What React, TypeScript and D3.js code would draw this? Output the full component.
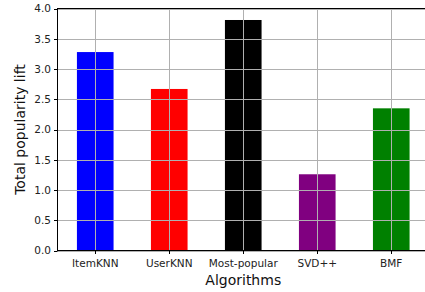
import React from "react";
import * as d3 from "d3";

const categories = ["ItemKNN", "UserKNN", "Most-popular", "SVD++", "BMF"];
const values = [3.28, 2.67, 3.81, 1.26, 2.35];
const colors = ["#0000ff", "#ff0000", "#000000", "#800080", "#008000"];
const yTicks = [0, 0.5, 1, 1.5, 2, 2.5, 3, 3.5, 4];

const W = 425;
const H = 292;
const L = 57.5;
const R = 429;
const T = 8.5;
const B = 250.5;
const barW = 0.495;

export default function App() {
  const x = d3.scaleLinear().domain([-0.51, 4.51]).range([L, R]);
  const y = d3.scaleLinear().domain([0, 4]).range([B, T]);
  const font = "DejaVu Sans, sans-serif";
  const px = (v: number) => Math.round(v) + 0.5;
  return (
    <svg
      width={W}
      height={H}
      style={{ position: "absolute", left: 0, top: 0, background: "#fff" }}
    >
      {categories.map((c, i) => (
        <rect
          key={c}
          x={x(i - barW / 2)}
          y={y(values[i])}
          width={x(i + barW / 2) - x(i - barW / 2)}
          height={y(0) - y(values[i])}
          fill={colors[i]}
        />
      ))}
      {yTicks.map((t) => (
        <line key={"gy" + t} x1={L} x2={R} y1={px(y(t))} y2={px(y(t))} stroke="#b0b0b0" strokeWidth={1} />
      ))}
      {categories.map((c, i) => (
        <line key={"gx" + c} x1={px(x(i))} x2={px(x(i))} y1={T} y2={B} stroke="#b0b0b0" strokeWidth={1} />
      ))}
      <rect x={L} y={T} width={R - L} height={B - T} fill="none" stroke="#000" strokeWidth={1} />
      {yTicks.map((t) => (
        <g key={"ty" + t}>
          <line x1={L - 3.5} x2={L} y1={px(y(t))} y2={px(y(t))} stroke="#000" strokeWidth={1} />
          <text
            x={L - 6.5}
            y={y(t)}
            dy="0.36em"
            textAnchor="end"
            fontFamily={font}
            fontSize={10.5}
            fill="#222"
          >
            {d3.format(".1f")(t)}
          </text>
        </g>
      ))}
      {categories.map((c, i) => (
        <g key={"tx" + c}>
          <line x1={px(x(i))} x2={px(x(i))} y1={B} y2={B + 3.5} stroke="#000" strokeWidth={1} />
          <text
            x={x(i)}
            y={266.5}
            textAnchor="middle"
            fontFamily={font}
            fontSize={10.5}
            fill="#222"
          >
            {c}
          </text>
        </g>
      ))}
      <text
        x={x(2)}
        y={284.5}
        textAnchor="middle"
        fontFamily={font}
        fontSize={14}
        fill="#111"
      >
        Algorithms
      </text>
      <text
        transform={`translate(24.5,${(T + B) / 2}) rotate(-90)`}
        textAnchor="middle"
        fontFamily={font}
        fontSize={14}
        fill="#111"
      >
        Total popularity lift
      </text>
    </svg>
  );
}
